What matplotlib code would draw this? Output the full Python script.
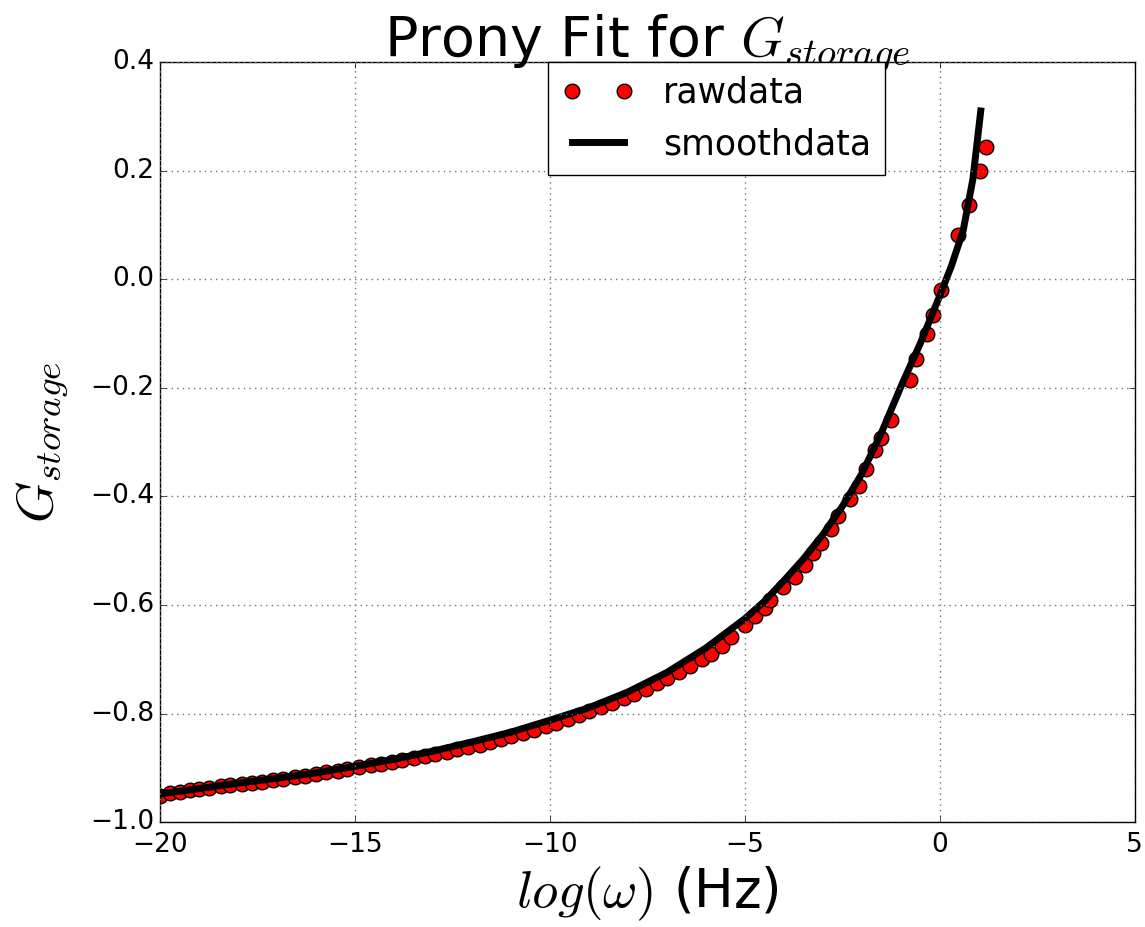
import matplotlib; matplotlib.use("Agg")
import matplotlib.pyplot as plt

# raw data
raw_x = [-20.0, -19.75, -19.5, -19.25, -19.0, -18.75, -18.45, -18.2, -17.9, -17.65,
         -17.4, -17.1, -16.85, -16.55, -16.3, -16.0, -15.75, -15.45, -15.2, -14.9,
         -14.6, -14.35, -14.05, -13.8, -13.5, -13.2, -12.95, -12.65, -12.4, -12.1,
         -11.8, -11.55, -11.25, -11.0, -10.7, -10.4, -10.1, -9.85, -9.55, -9.25,
         -9.0, -8.7, -8.4, -8.1, -7.85, -7.55, -7.25, -7.0, -6.7, -6.4,
         -6.1, -5.86, -5.6, -5.35, -4.99, -4.75, -4.48, -4.35, -4.02, -3.71,
         -3.45, -3.25, -3.04, -2.79, -2.61, -2.3, -2.07, -1.89, -1.66, -1.51,
         -1.25, -0.77, -0.61, -0.33, -0.18, 0.03, 0.46, 0.74, 1.02, 1.18]
raw_y = [-0.952, -0.946, -0.944, -0.941, -0.939, -0.937, -0.934, -0.932, -0.929, -0.927,
         -0.925, -0.922, -0.920, -0.917, -0.914, -0.911, -0.908, -0.905, -0.902, -0.899,
         -0.895, -0.892, -0.889, -0.886, -0.882, -0.878, -0.874, -0.870, -0.866, -0.862,
         -0.857, -0.852, -0.847, -0.842, -0.836, -0.830, -0.823, -0.817, -0.810, -0.803,
         -0.796, -0.788, -0.780, -0.771, -0.763, -0.754, -0.744, -0.735, -0.724, -0.712,
         -0.700, -0.690, -0.675, -0.658, -0.636, -0.620, -0.605, -0.590, -0.567, -0.549,
         -0.527, -0.505, -0.486, -0.460, -0.436, -0.404, -0.381, -0.350, -0.314, -0.292,
         -0.260, -0.186, -0.147, -0.100, -0.066, -0.020, 0.081, 0.137, 0.200, 0.243]

# smoothed prony fit
smooth_x = [-20, -19, -18, -17, -16, -15, -14, -13, -12, -11, -10, -9, -8, -7, -6,
            -5, -4.5, -4, -3.5, -3, -2.5, -2, -1.5, -1.0, -0.5, 0.0, 0.3, 0.6, 0.85, 1.05]
smooth_y = [-0.948, -0.938, -0.928, -0.919, -0.909, -0.897, -0.884, -0.869, -0.852, -0.834,
            -0.812, -0.789, -0.760, -0.724, -0.679, -0.625, -0.593, -0.555, -0.515, -0.470,
            -0.418, -0.358, -0.283, -0.198, -0.118, -0.030, 0.025, 0.090, 0.185, 0.310]

plt.style.use("classic")
fig = plt.figure(figsize=(11.45, 9.27), dpi=100, facecolor="white")
ax = fig.add_subplot(111)
fig.subplots_adjust(left=0.14, right=0.991, top=0.933, bottom=0.113)

ax.plot(raw_x, raw_y, "o", color="red", mec="black", mew=1.0, ms=10.5, label="rawdata")
ax.plot(smooth_x, smooth_y, "k-", lw=5, label="smoothdata")

ax.set_xlim(-20, 5); ax.set_ylim(-1.0, 0.4)
ax.set_xticks([-20, -15, -10, -5, 0, 5])
ax.set_yticks([-1.0, -0.8, -0.6, -0.4, -0.2, 0.0, 0.2, 0.4])
ax.tick_params(labelsize=19)
ax.tick_params(axis="x", pad=7)
ax.grid(True, color="0.45", ls=":", lw=1.0)

ax.set_title(r"Prony Fit for $G_{storage}$", fontsize=40)
ax.set_xlabel(r"$log(\omega)$ (Hz)", fontsize=38)
ax.set_ylabel(r"$G_{storage}$", fontsize=38, labelpad=14)
ax.legend(loc="upper left", bbox_to_anchor=(0.398, 1.0), borderaxespad=0,
          numpoints=2, fontsize=25, fancybox=False, handlelength=2.1)

fig.savefig("out.png", dpi=100, facecolor="white")
